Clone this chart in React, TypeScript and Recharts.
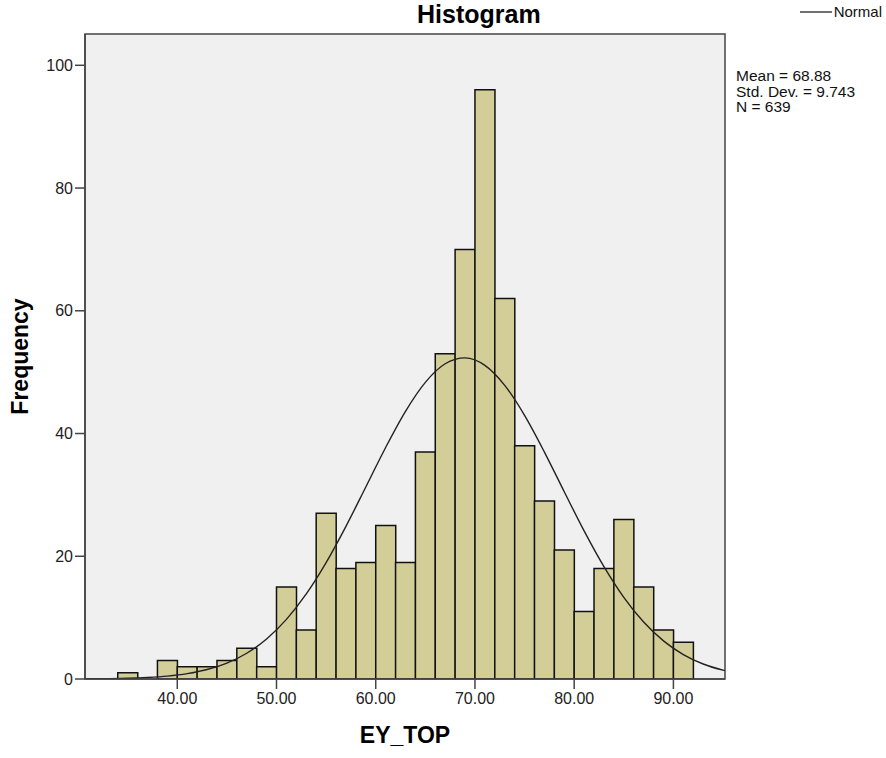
import React from "react";
import {
    ComposedChart,
    Bar,
    Line,
    XAxis,
    YAxis,
    CartesianGrid,
    ReferenceArea,
} from "recharts";

// bin centres (bin width 2) and counts
const binCenters = [35, 37, 39, 41, 43, 45, 47, 49, 51, 53, 55, 57, 59, 61, 63, 65, 67, 69, 71, 73, 75, 77, 79, 81, 83, 85, 87, 89, 91];
const counts = [1, 0, 3, 2, 2, 3, 5, 2, 15, 8, 27, 18, 19, 25, 19, 37, 53, 70, 96, 62, 38, 29, 21, 11, 18, 26, 15, 8, 6];

// fitted normal curve at the same spacing as the bins
const curveX = [29, 31, 33, 35, 37, 39, 41, 43, 45, 47, 49, 51, 53, 55, 57, 59, 61, 63, 65, 67, 69, 71, 73, 75, 77, 79, 81, 83, 85, 87, 89, 91, 93, 95, 97];
const curveY = [0.01, 0.03, 0.06, 0.12, 0.25, 0.47, 0.87, 1.54, 2.6, 4.2, 6.53, 9.71, 13.86, 18.97, 24.88, 31.29, 37.73, 43.62, 48.34, 51.37, 52.33, 51.11, 47.85, 42.96, 36.98, 30.51, 24.14, 18.31, 13.31, 9.28, 6.21, 3.98, 2.44, 1.44, 0.81];

const xTicks = [40, 50, 60, 70, 80, 90];
const yTicks = [0, 20, 40, 60, 80, 100];
const xDomain = [30.7, 95.2];
const yDomain = [0, 105.1];

const stats = ["Mean = 68.88", "Std. Dev. = 9.743", "N = 639"];

// one table so bars and curve share the same x spacing
const table = curveX.map((x, i) => {
    const b = binCenters.indexOf(x);
    return { x, normal: curveY[i], count: b >= 0 ? counts[b] : undefined };
});

const FONT = "'Liberation Sans', Arial, sans-serif";
const tickStyle = { fill: "#222", fontSize: 16, fontFamily: FONT };
const titleStyle = { fontFamily: FONT, fontWeight: "bold", fontSize: 23, fill: "#000" };

export default function App() {
    return (
        <div style={{ position: "absolute", left: 0, top: 0, width: 886, height: 758, background: "#fff" }}>
            <div
                style={{
                    position: "absolute",
                    left: 417,
                    top: 0,
                    fontFamily: FONT,
                    fontWeight: "bold",
                    fontSize: 25,
                    lineHeight: "28px",
                    color: "#000",
                }}
            >
                Histogram
            </div>
            <div
                style={{
                    position: "absolute",
                    right: 4,
                    top: 3,
                    display: "flex",
                    alignItems: "center",
                    fontFamily: FONT,
                    fontSize: 15,
                    lineHeight: "18px",
                    color: "#111",
                }}
            >
                <svg width={32} height={4} style={{ marginRight: 2 }}>
                    <line x1={0} y1={2} x2={32} y2={2} stroke="#222" strokeWidth={1.3} />
                </svg>
                Normal
            </div>
            <div
                style={{
                    position: "absolute",
                    left: 736,
                    top: 68,
                    fontFamily: FONT,
                    fontSize: 15.5,
                    lineHeight: "15.5px",
                    color: "#111",
                }}
            >
                {stats.map((s) => (
                    <div key={s}>{s}</div>
                ))}
            </div>
            <ComposedChart
                width={886}
                height={758}
                data={table}
                margin={{ top: 34, right: 161, left: 0, bottom: 0 }}
                barCategoryGap={0}
                barGap={0}
            >
                <CartesianGrid fill="#f0f0f0" horizontal={false} vertical={false} />
                <XAxis
                    dataKey="x"
                    type="number"
                    domain={xDomain}
                    allowDataOverflow
                    ticks={xTicks}
                    tickFormatter={(v: number) => v.toFixed(2)}
                    tick={tickStyle}
                    tickSize={10}
                    tickMargin={4}
                    height={79}
                    stroke="#444"
                    strokeWidth={1.5}
                    label={{ value: "EY_TOP", position: "insideBottom", offset: 15, style: titleStyle }}
                />
                <YAxis
                    type="number"
                    domain={yDomain}
                    allowDataOverflow
                    ticks={yTicks}
                    tick={tickStyle}
                    tickSize={10}
                    tickMargin={2}
                    width={85}
                    stroke="#444"
                    strokeWidth={1.5}
                    label={{
                        value: "Frequency",
                        angle: -90,
                        position: "insideLeft",
                        offset: 20,
                        style: { ...titleStyle, textAnchor: "middle" },
                    }}
                />
                <Bar dataKey="count" fill="#d3ce97" stroke="#111" strokeWidth={1.5} isAnimationActive={false} />
                <Line
                    dataKey="normal"
                    type="monotone"
                    stroke="#222"
                    strokeWidth={1.4}
                    dot={false}
                    activeDot={false}
                    isAnimationActive={false}
                />
                <ReferenceArea
                    x1={xDomain[0]}
                    x2={xDomain[1]}
                    y1={yDomain[0]}
                    y2={yDomain[1]}
                    fill="none"
                    stroke="#444"
                    strokeWidth={1.5}
                    ifOverflow="visible"
                />
            </ComposedChart>
        </div>
    );
}
